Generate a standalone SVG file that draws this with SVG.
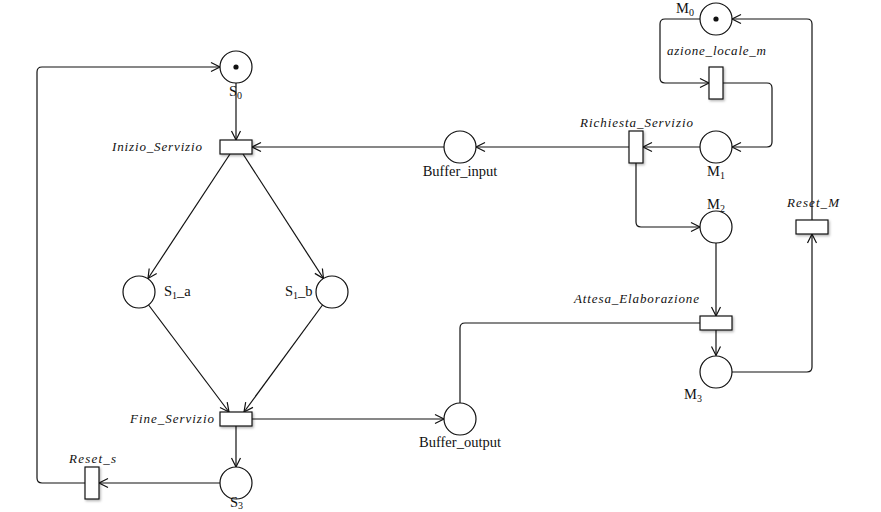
<svg xmlns="http://www.w3.org/2000/svg" width="881" height="512" viewBox="0 0 881 512">
<style>
.pl{fill:#fff;stroke:#111;stroke-width:1.2}
.tr{fill:#fff;stroke:#111;stroke-width:1.2;filter:url(#sh)}
.tk{fill:#111}
.arc{fill:none;stroke:#111;stroke-width:1.2}
.lb{font-family:"Liberation Serif","DejaVu Serif",serif;font-size:14.5px;fill:#111}
.tl{font-family:"Liberation Serif","DejaVu Serif",serif;font-size:13px;font-style:italic;fill:#111}
.sb{font-size:10px}
</style>
<defs>
<marker id="ar" markerWidth="12" markerHeight="12" refX="0" refY="0" viewBox="-10 -6 12 12" orient="auto" markerUnits="userSpaceOnUse">
<path d="M-9,-4.5 L0,0 L-9,4.5" fill="none" stroke="#111" stroke-width="1.2"/>
</marker>
<filter id="sh" x="-30%" y="-30%" width="160%" height="160%">
<feDropShadow dx="1.2" dy="1.5" stdDeviation="1" flood-color="#000" flood-opacity="0.3"/>
</filter>
</defs>
<g id="connectors">
<path class="arc" d="M700,19 H665 Q660,19 660,24 V78 Q660,83 665,83 H709" marker-end="url(#ar)"/>
<path class="arc" d="M723,83 H767 Q772,83 772,88 V142 Q772,147 767,147 H732" marker-end="url(#ar)"/>
<path class="arc" d="M700,147 H643" marker-end="url(#ar)"/>
<path class="arc" d="M629,147 H476" marker-end="url(#ar)"/>
<path class="arc" d="M444,147 H252" marker-end="url(#ar)"/>
<path class="arc" d="M636,163 V222 Q636,227 641,227 H700" marker-end="url(#ar)"/>
<path class="arc" d="M716,243 V316" marker-end="url(#ar)"/>
<path class="arc" d="M716,330 V355.5" marker-end="url(#ar)"/>
<path class="arc" d="M732,372 H807 Q812,372 812,367 V234" marker-end="url(#ar)"/>
<path class="arc" d="M812,220 V24 Q812,19 807,19 H732" marker-end="url(#ar)"/>
<path class="arc" d="M700,323 H465 Q460,323 460,328 V403"/>
<path class="arc" d="M252,419 H444" marker-end="url(#ar)"/>
<path class="arc" d="M236,426 V467" marker-end="url(#ar)"/>
<path class="arc" d="M220,483 H99" marker-end="url(#ar)"/>
<path class="arc" d="M85,483 H42 Q37,483 37,478 V72 Q37,67 42,67 H220" marker-end="url(#ar)"/>
<path class="arc" d="M236,83 V140" marker-end="url(#ar)"/>
<path class="arc" d="M230,154 L148,278.5" marker-end="url(#ar)"/>
<path class="arc" d="M243,154 L323.5,278.5" marker-end="url(#ar)"/>
<path class="arc" d="M148.6,305 L229,412" marker-end="url(#ar)"/>
<path class="arc" d="M322.5,305 L244,412" marker-end="url(#ar)"/>
</g>
<g id="M0"><circle class="pl" cx="716" cy="19" r="16"/><circle class="tk" cx="716" cy="19" r="2.6"/><text class="lb" x="676" y="13">M<tspan class="sb" dy="2.5">0</tspan></text></g>
<g id="M1"><circle class="pl" cx="716" cy="147" r="16"/><text class="lb" x="707" y="176">M<tspan class="sb" dy="3">1</tspan></text></g>
<g id="M2"><circle class="pl" cx="716" cy="227" r="16"/><text class="lb" x="707" y="209">M<tspan class="sb" dy="3">2</tspan></text></g>
<g id="M3"><circle class="pl" cx="716" cy="372" r="16"/><text class="lb" x="684" y="399">M<tspan class="sb" dy="3">3</tspan></text></g>
<g id="S0"><circle class="pl" cx="236" cy="67" r="16"/><circle class="tk" cx="236" cy="67" r="2.6"/><text class="lb" x="229" y="96">S<tspan class="sb" dy="3">0</tspan></text></g>
<g id="S1_a"><circle class="pl" cx="139" cy="292" r="16"/><text class="lb" x="164" y="296">S<tspan class="sb" dy="3">1</tspan><tspan dy="-3">_a</tspan></text></g>
<g id="S1_b"><circle class="pl" cx="332" cy="292" r="16"/><text class="lb" x="285" y="296">S<tspan class="sb" dy="3">1</tspan><tspan dy="-3">_b</tspan></text></g>
<g id="S3"><circle class="pl" cx="236" cy="483" r="16"/><text class="lb" x="230" y="507">S<tspan class="sb" dy="2">3</tspan></text></g>
<g id="Buffer_input"><circle class="pl" cx="460" cy="147" r="16"/><text class="lb" x="460" y="176" text-anchor="middle">Buffer_input</text></g>
<g id="Buffer_output"><circle class="pl" cx="460" cy="419" r="16"/><text class="lb" x="460" y="446.5" text-anchor="middle">Buffer_output</text></g>
<g id="azione_locale_m"><rect class="tr" x="709" y="67" width="14" height="32"/><text class="tl" x="667" y="55" textLength="99">azione_locale_m</text></g>
<g id="Richiesta_Servizio"><rect class="tr" x="629" y="131" width="14" height="32"/><text class="tl" x="580" y="127" textLength="113">Richiesta_Servizio</text></g>
<g id="Reset_M"><rect class="tr" x="796" y="220" width="32" height="14"/><text class="tl" x="787" y="207" textLength="52">Reset_M</text></g>
<g id="Attesa_Elaborazione"><rect class="tr" x="700" y="316" width="32" height="14"/><text class="tl" x="574" y="303" textLength="125">Attesa_Elaborazione</text></g>
<g id="Inizio_Servizio"><rect class="tr" x="220" y="140" width="32" height="14"/><text class="tl" x="112" y="151" textLength="90">Inizio_Servizio</text></g>
<g id="Fine_Servizio"><rect class="tr" x="220" y="412" width="32" height="14"/><text class="tl" x="130" y="423" textLength="84">Fine_Servizio</text></g>
<g id="Reset_s"><rect class="tr" x="85" y="467" width="14" height="32"/><text class="tl" x="69" y="463" textLength="47">Reset_s</text></g>
</svg>
